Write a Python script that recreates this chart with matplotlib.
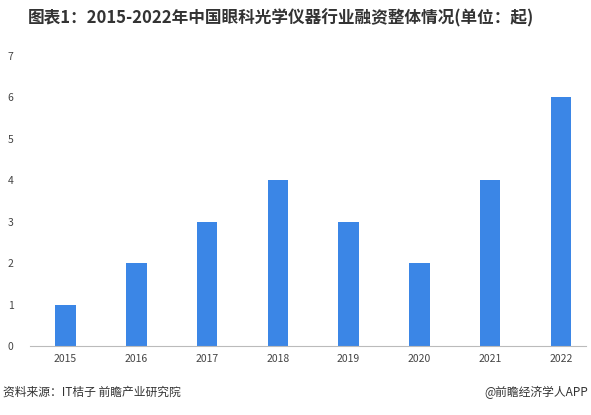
import matplotlib.pyplot as plt
plt.rcParams['font.family'] = ['Noto Sans CJK SC', 'DejaVu Sans']

years = ['2015', '2016', '2017', '2018', '2019', '2020', '2021', '2022']
counts = [1, 2, 3, 4, 3, 2, 4, 6]

fig = plt.figure(figsize=(5.91, 4.15), dpi=100)
ax = fig.add_axes([0.051, 0.166, 0.94, 0.699])
x = range(len(years))
ax.bar(x, counts, width=0.29, color='#3b86e6')
ax.set_xticks(list(x))
ax.set_xticklabels(years)
ax.set_xlim(-0.5, 7.35)
ax.set_ylim(0, 7)
ax.set_yticks(range(8))
for s in ['top', 'right', 'left']:
    ax.spines[s].set_visible(False)
ax.spines['bottom'].set_color('#bbbbbb')
ax.tick_params(axis='both', length=0, labelsize=7.5, colors='#444444')
ax.tick_params(axis='x', pad=6)
ax.tick_params(axis='y', pad=12)

fig.text(0.475, 0.955, '图表1：2015-2022年中国眼科光学仪器行业融资整体情况(单位：起)',
         ha='center', va='center', fontsize=12, fontweight='bold', color='#333333')
fig.text(0.005, 0.055, '资料来源：IT桔子 前瞻产业研究院', ha='left', va='center', fontsize=8.5, color='#333333')
fig.text(0.995, 0.055, '@前瞻经济学人APP', ha='right', va='center', fontsize=8.5, color='#333333')
fig.savefig('out.png', dpi=100)
